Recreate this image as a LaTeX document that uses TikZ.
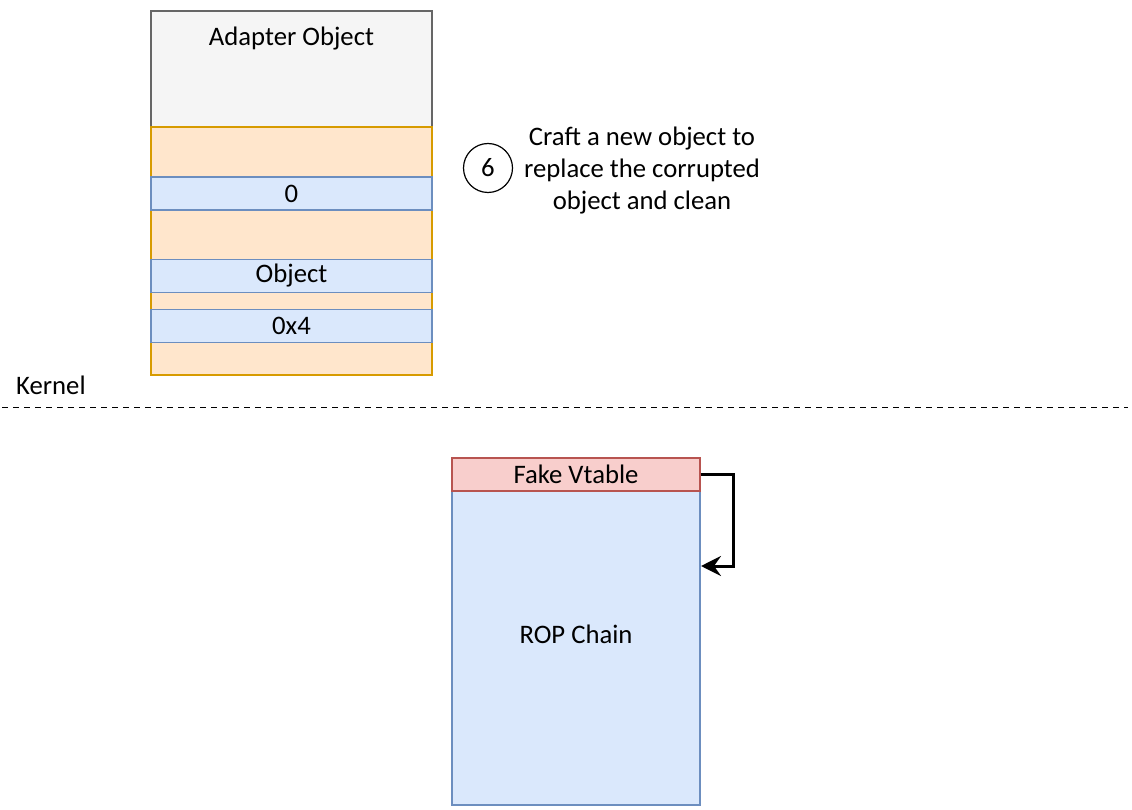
\documentclass[tikz,border=0pt]{standalone}
\usepackage{fontspec}
\setmainfont{Carlito}
\usetikzlibrary{arrows.meta}
\definecolor{grayfill}{HTML}{F5F5F5}
\definecolor{graydraw}{HTML}{666666}
\definecolor{orangefill}{HTML}{FFE6CC}
\definecolor{orangedraw}{HTML}{D79B00}
\definecolor{bluefill}{HTML}{DAE8FC}
\definecolor{bluedraw}{HTML}{6C8EBF}
\definecolor{redfill}{HTML}{F8CECC}
\definecolor{reddraw}{HTML}{B85450}
\tikzstyle{cell}=[draw, line width=1.3pt, inner sep=0, minimum width=281pt, font=\fontsize{26.7}{32}\selectfont]
\tikzstyle{header cell}=[cell, fill=grayfill, draw=graydraw]
\tikzstyle{padding cell}=[cell, fill=orangefill, draw=orangedraw]
\tikzstyle{field cell}=[cell, fill=bluefill, draw=bluedraw, minimum height=33pt]
\tikzstyle{plain text}=[inner sep=0, font=\fontsize{26.7}{32}\selectfont]
\tikzstyle{step circle}=[draw, circle, line width=1.2pt, minimum size=49pt, inner sep=0, font=\fontsize{26.7}{32}\selectfont]
\tikzstyle{link}=[line width=3pt, -{Stealth[length=20pt, width=20pt, inset=7pt]}]

\begin{document}
\begin{tikzpicture}[x=1pt, y=-1pt]
      \useasboundingbox (0, 0) rectangle (1132, 810);

      % adapter object in kernel memory
      \node[header cell, minimum height=116pt] (adapter) at (291.5, 69) {};
      \node[plain text] (adapter_label) at (291.5, 39) {Adapter Object};
      \node[padding cell, minimum height=248pt] (padding) at (291.5, 251) {};
      \node[field cell] (field_zero) at (291.5, 193.5) {\raisebox{-1.5pt}{0}};
      \node[field cell] (field_object) at (291.5, 276) {\raisebox{-1.5pt}{Object}};
      \node[field cell] (field_size) at (291.5, 326) {\raisebox{-1.5pt}{0x4}};

      % step 6
      \node[step circle] (step_six) at (488, 168) {6};
      \node[plain text, align=center] (step_text) at (642, 171)
        {Craft a new object to\\replace the corrupted\\object and clean};

      % kernel boundary
      \node[plain text, anchor=west] (kernel) at (16, 385) {Kernel};
      \coordinate (boundary_left) at (2, 407.5);
      \coordinate (boundary_right) at (1128, 407.5);
      \draw[line width=1.2pt, dash pattern=on 6pt off 5pt] (boundary_left) -- (boundary_right);

      % fake vtable and rop chain
      \node[cell, fill=bluefill, draw=bluedraw, minimum width=248pt, minimum height=314pt] (rop_chain) at (576, 648) {};
      \node[plain text] (rop_label) at (576, 634) {ROP Chain};
      \node[cell, fill=redfill, draw=reddraw, minimum width=248pt, minimum height=33pt] (vtable) at (576, 474.5) {\raisebox{-1.5pt}{Fake Vtable}};

      \coordinate (rop_entry) at (701, 566);
      \draw[link] (vtable.east) -- ++(33, 0) |- (rop_entry);
    \end{tikzpicture}
\end{document}
